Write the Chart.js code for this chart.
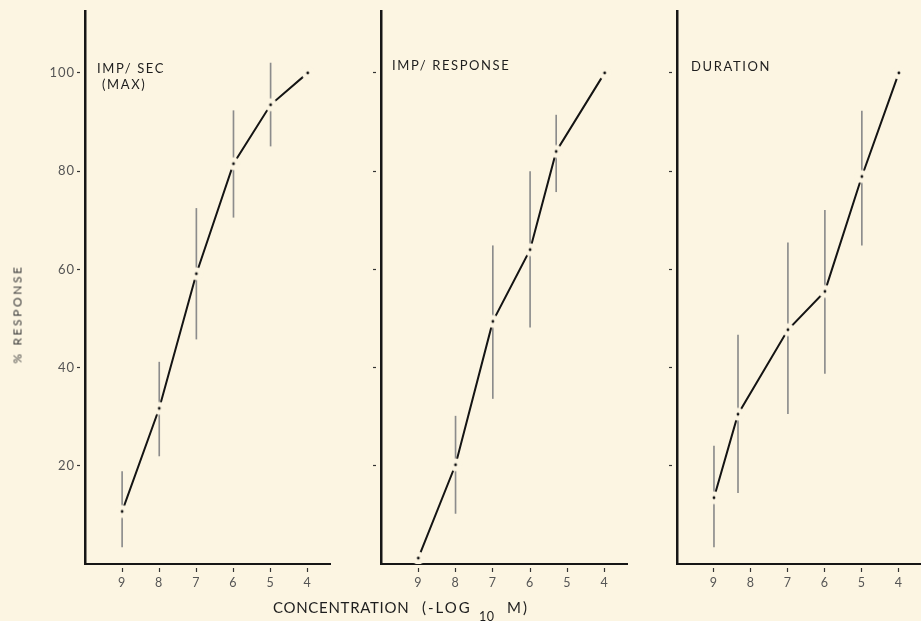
<!DOCTYPE html>
<html><head><meta charset="utf-8">
<script src="https://cdn.jsdelivr.net/npm/chart.js@4/dist/chart.umd.min.js"></script>
<style>
html,body{margin:0;padding:0;background:#fcf5e2;}
#wrap{position:relative;width:921px;height:621px;background:#fcf5e2;overflow:hidden;font-family:Lato,sans-serif;color:#1e1e1e;}
canvas{position:absolute;top:0;}
.ttl{position:absolute;font-size:13px;letter-spacing:1.6px;line-height:16px;white-space:nowrap;}
#ylab{position:absolute;left:17px;top:314px;transform:translate(-50%,-50%) rotate(-90deg);font-size:12px;letter-spacing:2.6px;white-space:nowrap;color:#3a3a3a;font-weight:400;}
.xl{position:absolute;top:598px;font-size:15px;letter-spacing:0.7px;line-height:18px;white-space:nowrap;}
</style></head><body>
<div id="wrap">
<canvas id="k1" width="340" height="621" style="left:0px"></canvas>
<canvas id="k2" width="290" height="621" style="left:340px"></canvas>
<canvas id="k3" width="291" height="621" style="left:630px"></canvas>
<div class="ttl" style="left:97px;top:60px">IMP/ SEC<br><span style="margin-left:5px">(MAX)</span></div>
<div class="ttl" style="left:392px;top:57px">IMP/ RESPONSE</div>
<div class="ttl" style="left:691px;top:58px">DURATION</div>
<div id="ylab">% RESPONSE</div>
<div id="xlab"><span class="xl" style="left:273px">CONCENTRATION </span><span class="xl" style="left:422px;letter-spacing:2px">(-LOG </span><span class="xl" style="left:479px;top:608px;font-size:12.5px;letter-spacing:0.5px">10 </span><span class="xl" style="left:507px;letter-spacing:2px">M)</span></div>
</div>
<script>
// ---- data ----
const xTickValues = [9, 8, 7, 6, 5, 4];
const yTickValues = [20, 40, 60, 80, 100];

const impSecX  = [9, 8, 7, 6, 5, 4];
const impSecY  = [10.7, 31.7, 59.1, 81.5, 93.5, 100];
const impSecLo = [3.5, 22, 45.8, 70.6, 85.1, null];
const impSecHi = [18.8, 41.1, 72.4, 92.3, 102, null];

const impRespX  = [9, 8, 7, 6, 5.3, 4];
const impRespY  = [1.2, 20.2, 49.4, 64, 84, 100];
const impRespLo = [null, 10.3, 33.7, 48.2, 75.8, null];
const impRespHi = [null, 30.1, 64.8, 79.9, 91.4, null];

const durX  = [9, 8.35, 7, 6, 5, 4];
const durY  = [13.5, 30.5, 47.7, 55.5, 78.9, 100];
const durLo = [3.5, 14.5, 30.6, 38.8, 64.9, null];
const durHi = [24, 46.6, 65.4, 72, 92.2, null];

// ---- styling ----
const BG = '#fcf5e2';
function makeDot() {
  const c = document.createElement('canvas');
  c.width = 16; c.height = 16;
  const g = c.getContext('2d');
  g.fillStyle = BG;
  g.beginPath(); g.arc(8, 8, 6.5, 0, Math.PI * 2); g.fill();
  g.fillStyle = '#111';
  g.beginPath(); g.arc(8, 8, 1.4, 0, Math.PI * 2); g.fill();
  return c;
}
const dot = makeDot();

const spacing = {
  id: 'spacing',
  beforeDraw(chart) { chart.ctx.letterSpacing = '1px'; }
};

function panel(id, xs, ys, lo, hi, yAxisWidth, padRight, showYLabels) {
  const lineData = xs.map((x, i) => ({ x: x, y: ys[i] }));
  const errData = [];
  xs.forEach((x, i) => { if (lo[i] !== null) errData.push({ x: x, y: [lo[i], hi[i]] }); });
  new Chart(document.getElementById(id), {
    type: 'line',
    data: {
      datasets: [
        { type: 'line', data: lineData, borderColor: '#141414', borderWidth: 2,
          pointStyle: dot, pointRadius: 6, tension: 0, order: 0 },
        { type: 'bar', data: errData, backgroundColor: '#8c8c8c', borderWidth: 0,
          barThickness: 1, grouped: false, order: 1 }
      ]
    },
    options: {
      responsive: false, animation: false, events: [],
      layout: { autoPadding: false, padding: { top: 11, right: padRight, bottom: 0, left: 0 } },
      plugins: { legend: { display: false }, tooltip: { enabled: false } },
      scales: {
        x: {
          type: 'linear', reverse: true, min: 3.4, max: 10, offset: false, z: 1,
          border: { color: '#161616', width: 2 },
          grid: { display: true, offset: false, drawOnChartArea: false, drawTicks: true,
                  tickLength: 8, tickColor: '#333', tickWidth: 1.2,
                  tickBorderDash: [4, 3], tickBorderDashOffset: 4 },
          ticks: { color: '#555', font: { family: 'Lato', size: 12.5 }, padding: 3,
                   maxRotation: 0, autoSkip: false },
          afterBuildTicks: s => { s.ticks = xTickValues.map(v => ({ value: v })); },
          afterFit: s => { s.height = 57; s.paddingLeft = 0; s.paddingRight = 0; }
        },
        y: {
          type: 'linear', min: 0, max: 112.6, z: 1,
          border: { color: '#161616', width: 2.5 },
          grid: { display: true, drawOnChartArea: false, drawTicks: true,
                  tickLength: 8, tickColor: '#333', tickWidth: 1.2,
                  tickBorderDash: [3, 10] },
          ticks: { display: showYLabels, color: '#555', font: { family: 'Lato', size: 13 }, padding: 2 },
          afterBuildTicks: s => { s.ticks = yTickValues.map(v => ({ value: v })); },
          afterFit: s => { s.width = yAxisWidth; s.paddingTop = 0; s.paddingBottom = 0; }
        }
      }
    },
    plugins: [spacing]
  });
}

panel('k1', impSecX, impSecY, impSecLo, impSecHi, 85, 10, true);
panel('k2', impRespX, impRespY, impRespLo, impRespHi, 41, 3, false);
panel('k3', durX, durY, durLo, durHi, 47, 0, false);
</script>
</body></html>
